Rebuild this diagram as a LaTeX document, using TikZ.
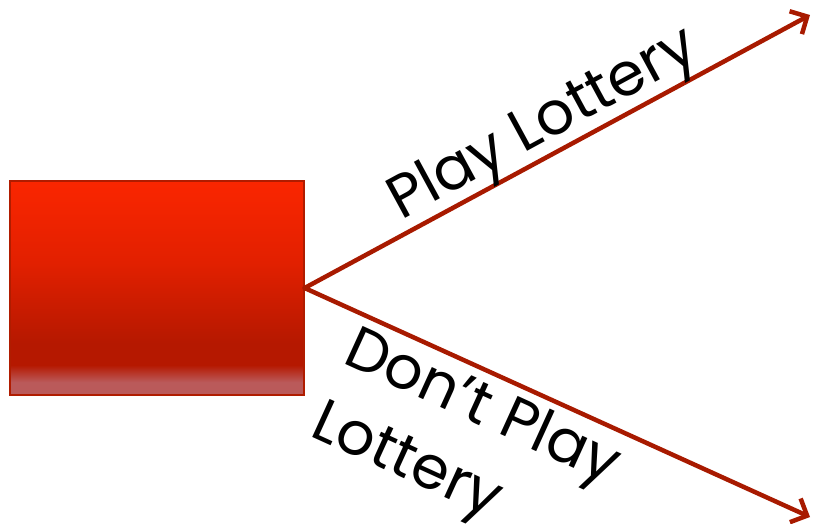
\documentclass[tikz,border=0pt]{standalone}
\usepackage{fontspec}
\setmainfont{Poppins}
\usetikzlibrary{arrows.meta}
\definecolor{boxtop}{HTML}{FA2600}
\definecolor{boxmid}{HTML}{E22000}
\definecolor{boxdark}{HTML}{B51800}
\definecolor{boxpink}{HTML}{BA5A5A}
\definecolor{boxedge}{HTML}{B01C00}
\definecolor{linered}{HTML}{A81A00}
\pgfdeclareverticalshading{boxshade}{100bp}{color(0bp)=(boxpink); color(28bp)=(boxpink); color(32bp)=(boxdark); color(37bp)=(boxdark); color(56bp)=(boxmid); color(75bp)=(boxtop); color(100bp)=(boxtop)}
\tikzset{
  decision/.style={draw=boxedge, line width=1.2pt, shading=boxshade, minimum width=294pt, minimum height=214pt, inner sep=0pt},
  branch/.style={draw=linered, line width=4.5pt, line cap=round, line join=round, -{Straight Barb[length=13pt,width=26pt,line width=4.5pt]}},
  label/.style={font=\fontsize{60}{80}\selectfont, inner sep=0pt, text=black}
}
\begin{document}
\begin{tikzpicture}[x=1pt,y=-1pt]
\useasboundingbox (0,0) rectangle (814,523);
\node[decision] (box) at (157,288) {};
\coordinate (upend) at (810,15);
\coordinate (downend) at (810,517);
\draw[branch] (box.east) -- (upend);
\draw[branch] (box.east) -- (downend);
\node[label, rotate=28.5, anchor=base] (play) at (551,139) {Play Lottery};
\node[label, rotate=-24.5, anchor=base west, align=left] (dont) at (308,435) {Don’t Play\\Lottery};
\end{tikzpicture}
\end{document}
